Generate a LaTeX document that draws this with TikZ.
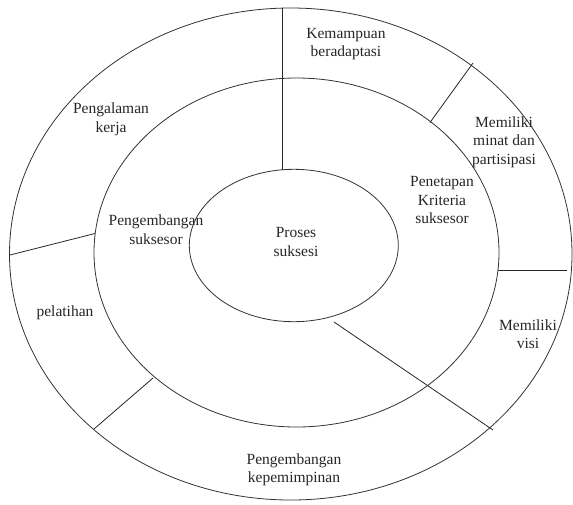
\documentclass[tikz,border=0pt]{standalone}
\usepackage{fontspec}
\newfontfamily\tms{Liberation Serif}
\usetikzlibrary{shapes.geometric}
\begin{document}
\begin{tikzpicture}[x=1pt,y=-1pt,
  ring/.style={ellipse, draw=black!80, line width=0.8pt, inner sep=0pt},
  sep/.style={draw=black!85, line width=0.8pt},
  lbl/.style={align=center, text=black!85, inner sep=0pt, font=\tms\fontsize{15.5}{18.5}\selectfont}]
\useasboundingbox (0,0) rectangle (573,504);
% rings
\node[ring, minimum width=562.5pt, minimum height=492pt] (outer) at (290.75,254) {};
\node[ring, minimum width=405pt, minimum height=349pt] (middle) at (296.5,252.5) {};
\node[ring, minimum width=209pt, minimum height=152.4pt] (inner) at (293.8,245.5) {};
% separator end points
\coordinate (v1) at (282,8);
\coordinate (v2) at (282,169.5);
\coordinate (a1) at (473,63);
\coordinate (a2) at (430,122.5);
\coordinate (h1) at (498,270);
\coordinate (h2) at (567,270);
\coordinate (d1) at (334,322);
\coordinate (d2) at (493,430);
\coordinate (l1) at (153,378);
\coordinate (l2) at (94,429);
\coordinate (w1) at (95,233.5);
\coordinate (w2) at (10,255);
\draw[sep] (v1) -- (v2);
\draw[sep] (a1) -- (a2);
\draw[sep] (h1) -- (h2);
\draw[sep] (d1) -- (d2);
\draw[sep] (l1) -- (l2);
\draw[sep] (w1) -- (w2);
% labels
\node[lbl] (kem) at (346,44) {Kemampuan\\beradaptasi};
\node[lbl] (kerja) at (111,119.5) {Pengalaman\\kerja};
\node[lbl] (minat) at (504,142) {Memiliki\\minat dan\\partisipasi};
\node[lbl] (krit) at (442,200) {Penetapan\\Kriteria\\suksesor};
\node[lbl] (pengsuk) at (156,229.5) {Pengembangan\\suksesor};
\node[lbl] (proses) at (296,242) {Proses\\suksesi};
\node[lbl] (pel) at (65,313) {pelatihan};
\node[lbl] (visi) at (528,334) {Memiliki\\visi};
\node[lbl] (kep) at (294,470) {Pengembangan\\kepemimpinan};
\end{tikzpicture}
\end{document}
